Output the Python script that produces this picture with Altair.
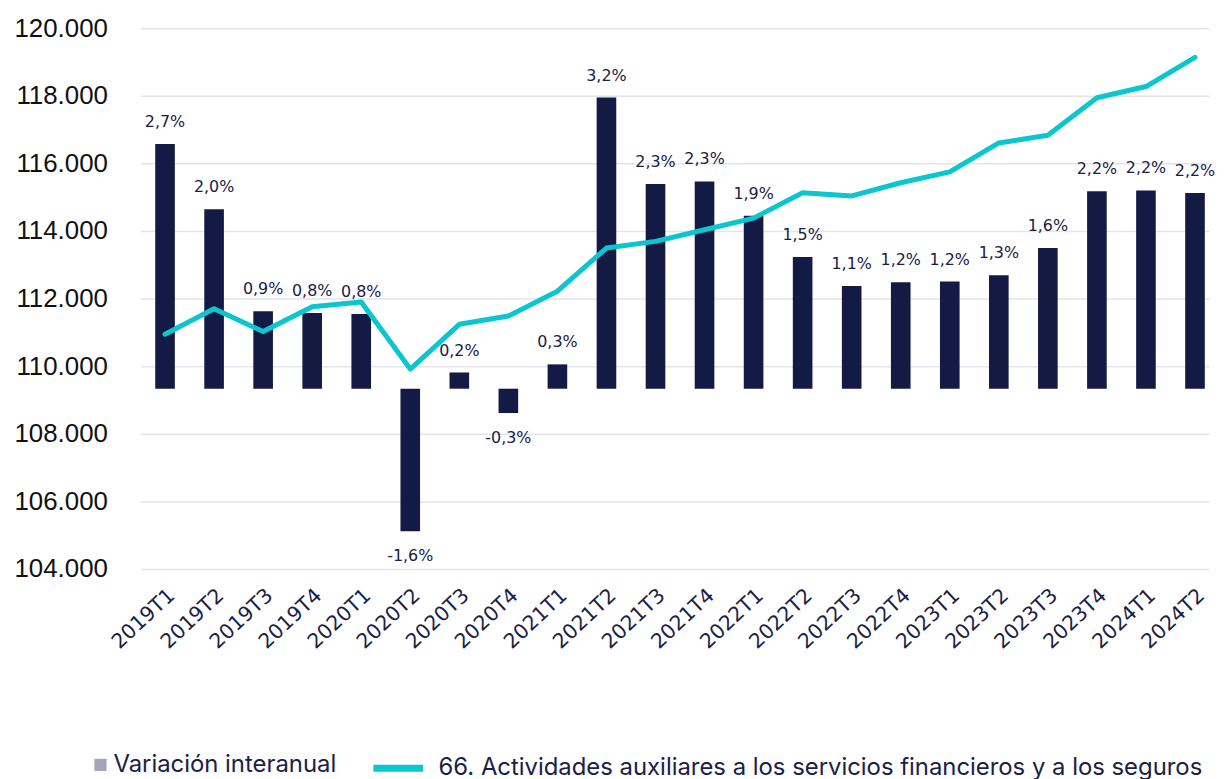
import altair as alt
import pandas as pd

trimestres = ["2019T1", "2019T2", "2019T3", "2019T4", "2020T1", "2020T2", "2020T3", "2020T4",
              "2021T1", "2021T2", "2021T3", "2021T4", "2022T1", "2022T2", "2022T3", "2022T4",
              "2023T1", "2023T2", "2023T3", "2023T4", "2024T1", "2024T2"]
ocupados = [110945, 111700, 111024, 111760, 111896, 109915, 111239, 111483,
            112219, 113496, 113692, 114035, 114379, 115131, 115035, 115426,
            115750, 116604, 116830, 117940, 118273, 119135]
variacion = [2.715, 1.99, 0.86, 0.84, 0.83, -1.58, 0.18, -0.27,
             0.27, 3.23, 2.27, 2.30, 1.92, 1.46, 1.14, 1.18,
             1.19, 1.26, 1.56, 2.19, 2.20, 2.17]
etiquetas = ["2,7%", "2,0%", "0,9%", "0,8%", "0,8%", "-1,6%", "0,2%", "-0,3%",
             "0,3%", "3,2%", "2,3%", "2,3%", "1,9%", "1,5%", "1,1%", "1,2%",
             "1,2%", "1,3%", "1,6%", "2,2%", "2,2%", "2,2%"]
serie_barras = "Variación interanual"
serie_linea = "66. Actividades auxiliares a los servicios financieros y a los seguros"

df = pd.DataFrame({
    "trimestre": trimestres,
    "ocupados": ocupados,
    "variacion": variacion,
    "etiqueta": etiquetas,
    "sb": serie_barras,
    "sl": serie_linea,
})

NAVY = "#131A43"
TEAL = "#0BC5CF"
LEGEND_GRAY = "#A3A5B8"

xscale = alt.Scale(paddingInner=0.6, paddingOuter=0.196, align=0.78)
xenc = alt.X("trimestre:N", sort=trimestres, scale=xscale,
             axis=alt.Axis(title=None, labelAngle=-43, labelFont="DejaVu Sans", labelFontSize=20.5,
                           labelColor="#1A2147", domain=False, ticks=False, labelPadding=16))

yvar = alt.Scale(domain=[-2, 4], nice=False, zero=False)

base = alt.Chart(df)

bars = base.mark_bar(color=NAVY).encode(
    x=xenc,
    y=alt.Y("variacion:Q", scale=yvar, axis=None),
)

bar_legend = base.mark_square(opacity=0).encode(
    x=xenc,
    y=alt.Y("variacion:Q", scale=yvar, axis=None),
    fill=alt.Fill("sb:N", scale=alt.Scale(range=[LEGEND_GRAY]),
                  legend=alt.Legend(title=None, orient="none", legendX=-52, legendY=729,
                                    direction="horizontal", symbolType="square", symbolSize=150,
                                    symbolOpacity=1, symbolStrokeWidth=0,
                                    labelFont="Inter", labelFontSize=24, labelColor="#1A2147",
                                    labelLimit=600, labelOffset=1)),
)

line = base.mark_line(strokeWidth=5, strokeCap="round", strokeJoin="round").encode(
    x=xenc,
    y=alt.Y("ocupados:Q", scale=alt.Scale(domain=[104000, 120000], nice=False, zero=False),
            axis=alt.Axis(title=None, orient="left", values=list(range(104000, 120001, 2000)),
                          labelExpr="replace(format(datum.value, ',.0f'), ',', '.')",
                          labelFont="Liberation Sans", labelFontSize=26, labelColor="#111111",
                          domain=False, ticks=False, labelPadding=33,
                          grid=True, gridColor="#E2E5EC", gridWidth=1.5)),
    stroke=alt.Stroke("sl:N", scale=alt.Scale(range=[TEAL]),
                      legend=alt.Legend(title=None, orient="none", legendX=231, legendY=716,
                                        direction="horizontal", symbolType="stroke", symbolSize=2500,
                                        symbolStrokeWidth=7, symbolStrokeColor=TEAL,
                                        labelFont="Inter", labelFontSize=24, labelColor="#1A2147",
                                        labelLimit=1200, labelOffset=12)),
)

txt_pos = base.transform_filter("datum.variacion >= 0").mark_text(
    font="DejaVu Sans", fontSize=16, color="#1A2147", baseline="middle", dy=-22
).encode(x=xenc, y=alt.Y("variacion:Q", scale=yvar, axis=None), text="etiqueta:N")

txt_neg = base.transform_filter("datum.variacion < 0").mark_text(
    font="DejaVu Sans", fontSize=16, color="#1A2147", baseline="middle", dy=25
).encode(x=xenc, y=alt.Y("variacion:Q", scale=yvar, axis=None), text="etiqueta:N")

chart = alt.layer(bars, bar_legend, line, txt_pos, txt_neg).resolve_scale(
    y="independent", fill="independent", stroke="independent"
).properties(
    width=1075, height=544,
    padding={"left": 6, "top": 5, "right": 0, "bottom": 0},
).configure_view(stroke=None).configure_legend(padding=0)

chart.save("out.html", embed_options={"renderer": "svg", "actions": False})
